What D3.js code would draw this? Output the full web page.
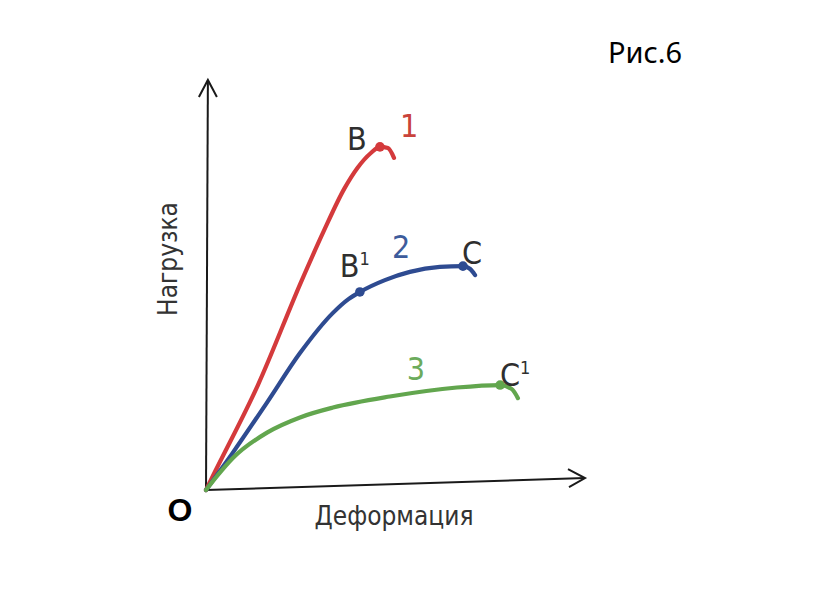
<!DOCTYPE html>
<html>
<head>
<meta charset="utf-8">
<script src="https://cdn.jsdelivr.net/npm/d3@7"></script>
<style>
  body { margin: 0; background: #fff; }
  svg { display: block; }
  .lbl { font-family: "Liberation Sans Narrow", "DejaVu Sans Condensed", "Liberation Sans", sans-serif; }
</style>
</head>
<body>
<svg width="819" height="599"></svg>
<script>
// deformation / load in arbitrary units (0..100 on each axis)
var curve1 = [[0,0],[2.4,4.5],[13.7,25.6],[25.3,51.2],[31,63],[36.5,73.5],[40,78.6],[43.5,82.2],[45.9,83.7],[48,83.4],[49.6,81]];
var curve2 = [[0,0],[7,9],[16,21.2],[24.8,33.4],[33.5,43.2],[37.5,46.5],[40.6,48.3],[47.2,51.2],[53.8,53.2],[61.7,54.4],[67.8,54.6],[69.7,53.9],[71,52.4]];
var curve3 = [[0,0],[3,3.5],[7.1,7.8],[16.1,14.0],[24.8,17.7],[33.5,20.1],[48.5,22.8],[66.2,25.0],[77.6,25.6],[80.7,24.6],[82.3,22.4]];
var seriesNames = ["1", "2", "3"];
var seriesColors = ["#d43a3c", "#2e4b91", "#62a64e"];
var labelColors = ["#c9433b", "#3d5c9c", "#6cab5c"];
// named points on the curves
var points = [
  {name: "B", sup: "", s: 0, d: [45.9, 83.7]},
  {name: "B", sup: "1", s: 1, d: [40.6, 48.3]},
  {name: "C", sup: "", s: 1, d: [67.8, 54.6]},
  {name: "C", sup: "1", s: 2, d: [77.6, 25.6]}
];
// where the curve numbers sit
var numberPos = [[53.6, 86.1], [51.5, 56.5], [55.4, 26.8]];
var xTitle = "Деформация", yTitle = "Нагрузка", figTitle = "Рис.6";

var svg = d3.select("svg");
var x = d3.scaleLinear().domain([0, 100]).range([206, 585]);
var y = d3.scaleLinear().domain([0, 100]).range([490, 80]);

var line = d3.line()
    .x(function(d) { return x(d[0]); })
    .y(function(d) { return y(d[1]); })
    .curve(d3.curveMonotoneX);

// axes (the scan is slightly tilted, x axis rises a little to the right)
var ax = svg.append("g").attr("stroke", "#1a1a1a").attr("stroke-width", 2).attr("fill", "none");
ax.append("path").attr("d", "M" + x(0) + "," + y(0) + "L" + x(0.5) + "," + y(100));
ax.append("path").attr("d", "M" + (x(0.5) - 9) + "," + (y(100) + 17) + "L" + x(0.5) + "," + y(100) + "L" + (x(0.5) + 9) + "," + (y(100) + 17));
ax.append("path").attr("d", "M" + x(0) + "," + y(0) + "L" + x(100) + "," + y(2.9));
ax.append("path").attr("d", "M" + (x(100) - 17) + "," + (y(2.9) - 9) + "L" + x(100) + "," + y(2.9) + "L" + (x(100) - 16) + "," + (y(2.9) + 9));

// curves
[curve1, curve2, curve3].forEach(function(c, i) {
  svg.append("path")
    .datum(c)
    .attr("d", line)
    .attr("fill", "none")
    .attr("stroke", seriesColors[i])
    .attr("stroke-width", 4.2)
    .attr("stroke-linecap", "round");
});

svg.selectAll(".dot")
  .data(points)
  .enter().append("circle")
    .attr("class", "dot")
    .attr("cx", function(d) { return x(d.d[0]); })
    .attr("cy", function(d) { return y(d.d[1]); })
    .attr("r", 4.8)
    .attr("fill", function(d) { return seriesColors[d.s]; });

// point letters
var offsets = [[-23, 3], [-5, -15], [9, -2], [15, 1]];
points.forEach(function(p, i) {
  var t = svg.append("text")
    .attr("class", "lbl")
    .attr("x", x(p.d[0]) + offsets[i][0])
    .attr("y", y(p.d[1]) + offsets[i][1])
    .attr("text-anchor", "middle")
    .attr("font-size", 32)
    .attr("fill", "#2f2f2f")
    .text(p.name);
  if (p.sup) {
    t.append("tspan").attr("font-size", 18).attr("dy", -12).text(p.sup);
  }
});

svg.selectAll(".num")
  .data(numberPos)
  .enter().append("text")
    .attr("class", "lbl num")
    .attr("x", function(d) { return x(d[0]); })
    .attr("y", function(d) { return y(d[1]); })
    .attr("text-anchor", "middle")
    .attr("font-size", 32)
    .attr("fill", function(d, i) { return labelColors[i]; })
    .text(function(d, i) { return seriesNames[i]; });

// titles
svg.append("text")
  .attr("class", "lbl")
  .attr("x", 394).attr("y", 525)
  .attr("text-anchor", "middle")
  .attr("font-size", 26)
  .attr("fill", "#333")
  .text(xTitle);

svg.append("text")
  .attr("class", "lbl")
  .attr("transform", "translate(177,259) rotate(-90)")
  .attr("text-anchor", "middle")
  .attr("font-size", 26)
  .attr("fill", "#333")
  .text(yTitle);

svg.append("text")
  .attr("x", 180).attr("y", 521)
  .attr("text-anchor", "middle")
  .attr("font-family", "Liberation Sans, Arial, sans-serif")
  .attr("font-weight", "bold")
  .attr("font-size", 32)
  .attr("fill", "#000")
  .text("O");

svg.append("text")
  .attr("x", 645).attr("y", 63)
  .attr("text-anchor", "middle")
  .attr("font-family", "Noto Sans, sans-serif")
  .attr("font-size", 29)
  .attr("fill", "#000")
  .text(figTitle);
</script>
</body>
</html>
